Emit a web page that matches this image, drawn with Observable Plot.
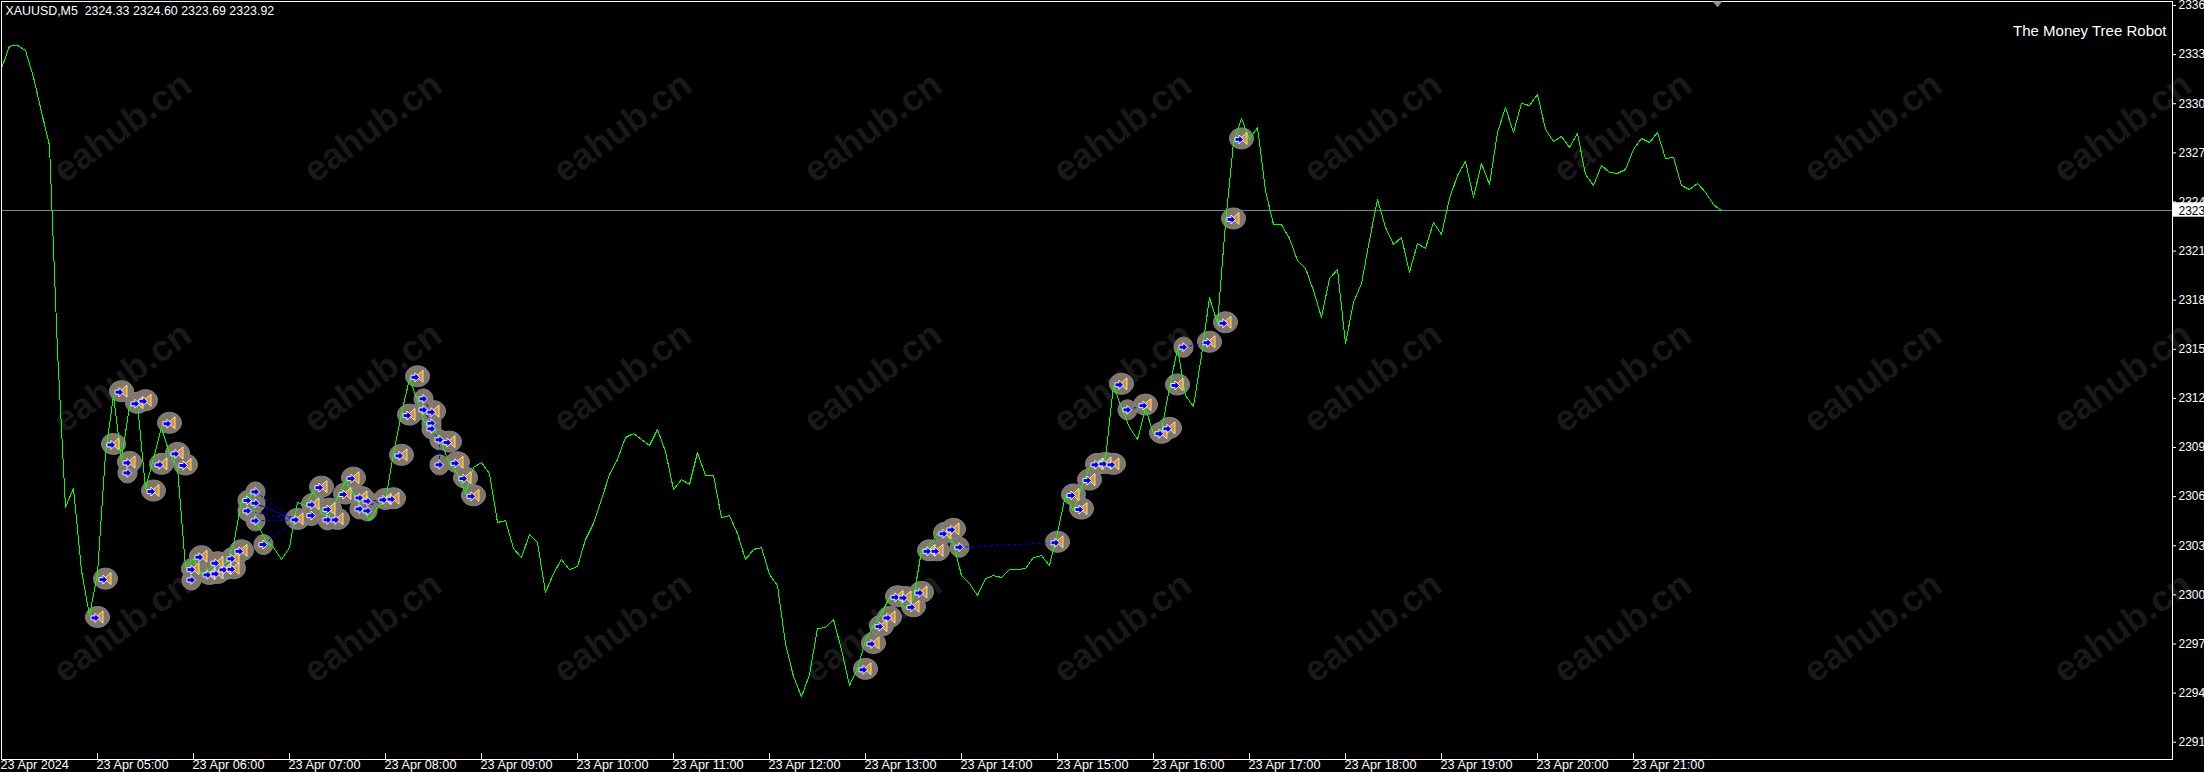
<!DOCTYPE html>
<html><head><meta charset="utf-8">
<style>html,body{margin:0;padding:0;background:#000;overflow:hidden}svg{display:block;max-width:none!important}</style>
<script src="https://cdn.jsdelivr.net/npm/d3@7"></script>
<script src="https://cdn.jsdelivr.net/npm/@observablehq/plot@0.6"></script>
</head><body><div id="c"></div>
<script>
const closePrices = [2332.61,2333.99,2334.03,2333.72,2332.09,2329.96,2327.92,2315.39,2305.82,2306.98,2301.95,2299.20,2301.77,2309.10,2312.65,2308.67,2312.03,2312.16,2306.96,2308.80,2310.69,2309.10,2308.25,2302.14,2302.69,2301.71,2302.08,2302.38,2302.38,2303.48,2306.23,2306.72,2304.82,2303.79,2303.36,2302.63,2303.36,2306.11,2305.92,2306.84,2305.44,2305.25,2306.41,2307.45,2306.66,2305.80,2305.01,2305.80,2306.23,2309.10,2311.55,2313.68,2312.34,2310.81,2310.63,2309.71,2308.49,2307.88,2306.66,2308.25,2308.55,2307.88,2304.89,2305.01,2303.30,2302.75,2304.15,2303.66,2300.61,2301.77,2302.63,2302.01,2302.20,2303.85,2304.82,2306.29,2307.82,2308.74,2310.08,2310.32,2309.96,2309.59,2310.57,2309.22,2306.90,2307.51,2307.21,2309.16,2307.76,2307.76,2305.19,2305.31,2304.21,2302.63,2303.24,2303.36,2301.71,2301.04,2297.49,2295.48,2294.25,2295.60,2298.41,2298.47,2298.96,2297.13,2294.93,2295.97,2297.68,2298.59,2299.33,2300.30,2300.30,2299.63,2300.24,2303.17,2303.48,2304.21,2304.27,2303.60,2301.65,2301.16,2300.43,2301.46,2301.65,2301.53,2302.01,2302.01,2302.08,2302.75,2302.87,2302.26,2304.27,2306.54,2305.62,2307.02,2308.25,2308.67,2308.80,2313.26,2311.91,2310.69,2309.96,2311.85,2310.32,2310.51,2313.13,2315.52,2312.65,2311.97,2315.09,2318.63,2317.04,2323.15,2328.10,2329.57,2328.29,2329.02,2325.17,2323.09,2323.09,2322.24,2320.89,2320.41,2319.06,2317.41,2319.79,2320.34,2315.82,2318.33,2319.49,2322.12,2324.62,2322.91,2321.87,2322.30,2320.16,2321.93,2321.63,2323.22,2322.48,2324.68,2326.09,2326.94,2324.74,2326.82,2325.54,2328.71,2330.24,2328.71,2330.49,2330.36,2331.04,2328.90,2328.16,2328.47,2327.80,2328.65,2326.15,2325.48,2326.70,2326.27,2326.21,2326.45,2327.68,2328.35,2328.10,2328.71,2327.13,2327.19,2325.48,2325.23,2325.60,2325.05,2324.32,2323.92];
const closedBars = [12,13,14,15,16,17,18,19,20,21,22,23,24,25,26,27,27,28,29,29,30,37,39,40,41,42,43,44,45,48,49,50,51,52,54,56,57,58,59,108,109,110,111,112,113,114,115,116,117,118,119,132,134,135,136,137,138,139,140,143,145,146,147,151,153,154,155];
const closedPrices = [2299.06,2301.40,2309.63,2312.85,2308.53,2312.14,2312.30,2306.78,2308.41,2310.92,2309.08,2308.37,2302.01,2302.77,2301.69,2301.75,2302.40,2302.00,2302.03,2302.67,2303.13,2305.05,2305.97,2307.02,2305.68,2305.05,2306.60,2307.57,2306.39,2306.27,2306.31,2308.96,2311.42,2313.76,2311.63,2309.77,2308.51,2307.57,2306.49,2295.89,2297.47,2298.53,2299.06,2300.32,2300.28,2299.71,2300.59,2303.13,2303.13,2304.20,2304.44,2303.65,2306.54,2305.68,2307.45,2308.41,2308.47,2308.41,2313.30,2312.03,2310.31,2310.61,2313.26,2315.87,2317.06,2323.40,2328.29];
const openBars = [16,24,31,31,32,32,32,33,39,41,45,46,46,53,53,54,54,55,55,120,141,148];
const openPrices = [2307.92,2301.38,2306.23,2305.60,2306.76,2306.07,2304.99,2303.54,2305.31,2305.05,2305.72,2306.19,2305.60,2312.44,2311.77,2310.95,2310.61,2309.94,2308.41,2303.38,2311.77,2315.60];
const dashFromBars = [32,31,32,31,32,33,16,24,46,45,53,53,54,55,120,141,148];
const dashFromPrices = [2306.76,2306.23,2306.07,2305.60,2304.99,2303.54,2307.92,2301.38,2306.19,2305.72,2312.44,2311.77,2310.61,2308.41,2303.38,2311.77,2315.60];
const dashToBars = [37,37,37,37,37,37,16,24,49,48,54,54,55,55,132,143,151];
const dashToPrices = [2305.05,2305.05,2305.05,2305.05,2305.05,2305.05,2308.53,2302.01,2306.31,2306.27,2311.63,2310.95,2309.94,2309.94,2303.65,2312.03,2315.87];
const yTickValues = [2336.47,2333.47,2330.47,2327.47,2324.47,2321.47,2318.47,2315.47,2312.47,2309.47,2306.47,2303.47,2300.47,2297.47,2294.47,2291.47];
const xTickBars = [0,12,24,36,48,60,72,84,96,108,120,132,144,156,168,180,192,204];
const xTickLabels = ["23 Apr 2024","23 Apr 05:00","23 Apr 06:00","23 Apr 07:00","23 Apr 08:00","23 Apr 09:00","23 Apr 10:00","23 Apr 11:00","23 Apr 12:00","23 Apr 13:00","23 Apr 14:00","23 Apr 15:00","23 Apr 16:00","23 Apr 17:00","23 Apr 18:00","23 Apr 19:00","23 Apr 20:00","23 Apr 21:00"];
const watermarkBars = [15.1,46.4,77.6,108.9,140.1,171.4,202.6,233.9,265.1];
const watermarkPrices = [2329.02,2313.75,2298.47];
const headerText = "XAUUSD,M5  2324.33 2324.60 2323.69 2323.92";
const robotText = "The Money Tree Robot";
const lastPrice = 2323.92;

const t0 = Date.UTC(2024,3,23,4,0);
const barTime = i => new Date(t0 + i*300000);
const font = "'Liberation Sans',Arial,sans-serif";
const poly = (pts) => ({draw(c){pts.forEach((p,i)=> i? c.lineTo(p[0],p[1]) : c.moveTo(p[0],p[1])); c.closePath();}});
const ellipse = (rx,ry) => ({draw(c){const k=0.5523;
  c.moveTo(rx,0);
  c.bezierCurveTo(rx,ry*k,rx*k,ry,0,ry);
  c.bezierCurveTo(-rx*k,ry,-rx,ry*k,-rx,0);
  c.bezierCurveTo(-rx,-ry*k,-rx*k,-ry,0,-ry);
  c.bezierCurveTo(rx*k,-ry,rx,-ry*k,rx,0);c.closePath();}});
const arrow = poly([[-4.5,-2],[-0.5,-2],[-0.5,-4.5],[4,0],[-0.5,4.5],[-0.5,2],[-4.5,2]]);
const triLeft = poly([[-3.5,0],[3.5,-6],[3.5,6]]);
const triDown = poly([[-5,-3],[5,-3],[0,3]]);

const line = closePrices.map((p,i)=>({t:barTime(i),p}));
const closed = closedBars.map((b,i)=>({t:barTime(b),p:closedPrices[i]}));
const opened = openBars.map((b,i)=>({t:barTime(b),p:openPrices[i]}));
const dashes = dashFromBars.map((b,i)=>({a:barTime(b),pa:dashFromPrices[i],b:barTime(dashToBars[i]),pb:dashToPrices[i]}));
const labelByTime = new Map(xTickBars.map((b,i)=>[+barTime(b),xTickLabels[i]]));
const marks = d3.cross(watermarkBars,watermarkPrices).map(([b,p])=>({t:barTime(b),p}));
const bg = {fill:"#857664",stroke:"#778899",strokeWidth:1,r:1};

const chart = Plot.plot({
  width:2204,height:772,
  marginLeft:1,marginTop:1,marginRight:32,marginBottom:13,
  style:{background:"#000",color:"#fff",fontFamily:font,fontSize:"12px"},
  x:{type:"utc",domain:[barTime(0),barTime(271.375)],range:[1,2172]},
  y:{domain:[2336.47,2291.47],range:[5,741.7]},
  marks:[
    Plot.text(marks,{x:"t",y:"p",text:()=>"eahub.cn",rotate:-36,fill:"#191919",fontSize:36.5,fontWeight:"bold",fontFamily:font}),
    Plot.ruleY([lastPrice],{stroke:"#778899",strokeWidth:1,shapeRendering:"crispEdges"}),
    Plot.dot(closed,{x:"t",y:"p",dy:-1,symbol:ellipse(12,10.5),...bg}),
    Plot.dot(opened,{x:"t",y:"p",dx:-2,symbol:ellipse(9.5,10),...bg}),
    Plot.link(dashes,{x1:"a",y1:"pa",x2:"b",y2:"pb",dx:-2,stroke:"#0000ff",strokeWidth:1,strokeDasharray:"3,3"}),
    Plot.line(line,{x:"t",y:"p",stroke:"#00ff00",strokeWidth:1,shapeRendering:"crispEdges"}),
    Plot.dot(closed,{x:"t",y:"p",dx:2,dy:-1,symbol:triLeft,r:1,fill:"#d8942a",stroke:"#fff",strokeWidth:0.7}),
    Plot.dot(closed,{x:"t",y:"p",dx:-2,symbol:arrow,r:1,fill:"#0000ff",stroke:"#fff",strokeWidth:0.9}),
    Plot.dot(opened,{x:"t",y:"p",dx:-2,symbol:arrow,r:1,fill:"#0000ff",stroke:"#fff",strokeWidth:0.9}),
    Plot.frame({stroke:"#fff",strokeWidth:1}),
    Plot.ruleX(xTickBars.slice(1).map(barTime),{x:d=>d,y1:2290.41,y2:2290.77,stroke:"#fff"}),
    Plot.axisX({anchor:"bottom",ticks:xTickBars.map(barTime),tickSize:0,tickPadding:0,textAnchor:"start",dx:-1,
      tickFormat:d=>labelByTime.get(+d),fill:"#fff",fontSize:12.7,label:null}),
    Plot.axisY({anchor:"right",ticks:yTickValues,tickSize:3,tickPadding:3,tickFormat:d=>String(Math.floor(d)),fill:"#fff",fontSize:12,label:null}),
    Plot.rect([lastPrice],{x1:()=>barTime(271.5),x2:()=>barTime(275.5),y1:()=>2324.42,y2:()=>2323.54,fill:"#fff"}),
    Plot.text([lastPrice],{x:()=>barTime(272.125),y:d=>d,text:d=>String(Math.floor(d)),textAnchor:"start",fill:"#000",fontSize:12}),
    Plot.dot([lastPrice],{x:()=>barTime(214.5),y:()=>2336.54,symbol:triDown,r:1,fill:"#8a93a0",stroke:"none"}),
    Plot.text([headerText],{frameAnchor:"top-left",dx:4,dy:5,lineAnchor:"top",textAnchor:"start",fill:"#fff",fontSize:12.4}),
    Plot.text([robotText],{frameAnchor:"top-right",dx:-6,dy:24,lineAnchor:"top",textAnchor:"end",fill:"#fff",fontSize:15})
  ]
});
document.getElementById("c").appendChild(chart);
</script></body></html>
